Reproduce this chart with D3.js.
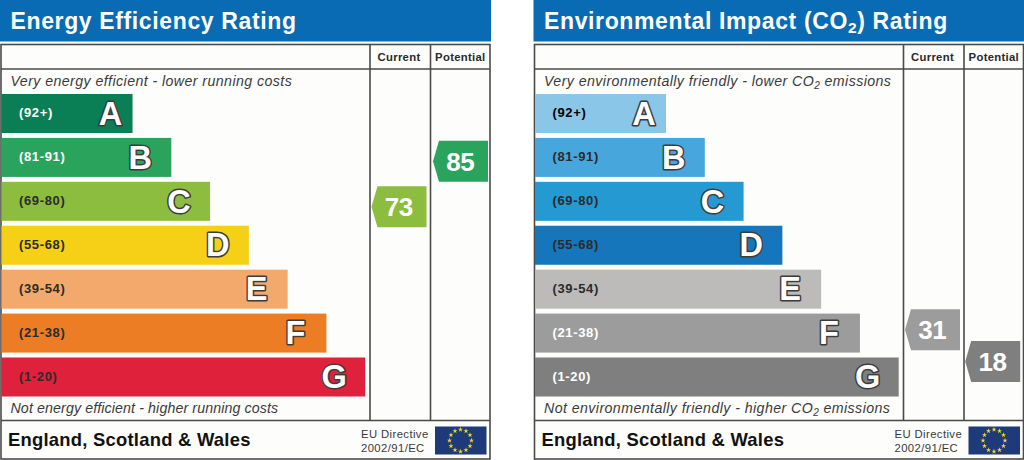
<!DOCTYPE html>
<html><head><meta charset="utf-8">
<script src="https://cdn.jsdelivr.net/npm/d3@7"></script>
<style>html,body{margin:0;padding:0;background:#fff}svg{display:block}text{font-family:"Liberation Sans",Arial,sans-serif}</style>
</head><body><svg id="c" width="1024" height="460"></svg>
<script>
const letters=["A","B","C","D","E","F","G"];
const ranges=["(92+)","(81-91)","(69-80)","(55-68)","(39-54)","(21-38)","(1-20)"];
const bandLow=[92,81,69,55,39,21,1];
const bandHigh=[100,91,80,68,54,38,20];
const barLength=[1,2,3,4,5,6,7];
const energyColors=["#0a7f55","#2aa45c","#8dbd3f","#f5d016","#f3a96b","#ec7d24","#e0213c"];
const energyLabelColors=["#fff","#fff","#2b2b2b","#2b2b2b","#2b2b2b","#2b2b2b","#2b2b2b"];
const envColors=["#8ac6e8","#47a7dc","#2599d1","#1676bc","#bcbbb9","#9c9c9c","#7f7f7f"];
const envLabelColors=["#000","#2b2b2b","#2b2b2b","#2b2b2b","#2b2b2b","#fff","#fff"];
const energyCurrent=73, energyPotential=85;
const envCurrent=31, envPotential=18;
const energyTop=["Very energy efficient - lower running costs"];
const energyBottom=["Not energy efficient - higher running costs"];
const envTop=["Very environmentally friendly - lower CO","2"," emissions"];
const envBottom=["Not environmentally friendly - higher CO","2"," emissions"];

const svg=d3.select("#c");
svg.append("rect").attr("width",1024).attr("height",460).attr("fill","#fff");
const stroke="#4a4a4a";

function panel(x0,o){
  const g=svg.append("g").attr("transform",`translate(${x0},0)`);
  g.append("rect").attr("x",0).attr("y",0).attr("width",491).attr("height",41.5).attr("fill","#086bb3");
  const t=g.append("text").attr("x",10.5).attr("y",29).attr("fill","#fff").attr("font-weight","bold")
    .attr("font-size",23).attr("letter-spacing",o.titleSpacing);
  o.title.forEach((s,i)=>{
    t.append("tspan").text(s).attr("font-size",s==="2"?15.5:23).attr("dy",s==="2"?4:(i>0?-4:0));
  });
  g.append("rect").attr("x",1).attr("y",44.5).attr("width",489).attr("height",414.5)
    .attr("fill","#fdfdfb").attr("stroke",stroke).attr("stroke-width",1.6);
  [[370,44.5,370,420],[430.5,44.5,430.5,420],[1,69,490,69],[1,420.5,490,420.5]].forEach(l=>{
    g.append("line").attr("x1",l[0]).attr("y1",l[1]).attr("x2",l[2]).attr("y2",l[3])
      .attr("stroke",stroke).attr("stroke-width",1.6);
  });
  g.selectAll("text.col").data(["Current","Potential"]).join("text").attr("class","col")
    .attr("x",(d,i)=>i?460.3:399).attr("y",61).attr("text-anchor","middle")
    .attr("font-weight","bold").attr("font-size",11.3).attr("letter-spacing",0.3).attr("fill","#2a2a2a").text(d=>d);

  const y=d3.scaleBand().domain(letters).range([94,396.5]).paddingInner(0.112).paddingOuter(0);
  const x=d3.scaleLinear().domain([0,7]).range([93.75,365.2]);
  const bars=g.selectAll("g.bar").data(letters).join("g").attr("class","bar");
  bars.append("rect").attr("x",1.5).attr("y",d=>y(d)).attr("height",y.bandwidth())
    .attr("width",(d,i)=>x(barLength[i])-1.5).attr("fill",(d,i)=>o.colors[i]);
  bars.append("text").attr("x",19).attr("y",d=>y(d)+y.bandwidth()/2+3.6)
    .attr("font-weight","bold").attr("font-size",13).attr("letter-spacing",0.65).attr("fill",(d,i)=>o.labelColors[i]).text((d,i)=>ranges[i]);
  bars.append("text").attr("x",(d,i)=>x(barLength[i])-(i?31:22)).attr("y",d=>y(d)+y.bandwidth()/2+11.2)
    .attr("text-anchor","middle").attr("font-weight","bold").attr("font-size",32.5)
    .attr("fill","#fff").attr("stroke","#3c3c3c").attr("stroke-width",3).attr("paint-order","stroke")
    .attr("stroke-linejoin","round").text(d=>d);

  function note(parts,yy,sp){
    const n=g.append("text").attr("x",10.5).attr("y",yy).attr("font-style","italic").attr("font-size",14.2)
      .attr("letter-spacing",sp).attr("fill","#3a3a3a");
    parts.forEach((s,i)=>n.append("tspan").text(s).attr("font-size",s==="2"?10:14.2).attr("dy",s==="2"?3:(i>0?-3:0)));
  }
  note(o.top,86,o.topSpacing); note(o.bottom,413.3,o.bottomSpacing);

  function valueY(v){
    const i=bandLow.findIndex((lo,k)=>v>=lo&&v<=bandHigh[k]);
    const s=d3.scaleLinear().domain([bandLow[i],bandHigh[i]]).range([y(letters[i])+y.bandwidth(),y(letters[i])]);
    return {cy:s(v),color:o.colors[i]};
  }
  function pointer(v,left){
    const p=valueY(v), h=20.5, w=55;
    const path=d3.path();
    path.moveTo(left,p.cy); path.lineTo(left+6,p.cy-h); path.lineTo(left+w,p.cy-h);
    path.lineTo(left+w,p.cy+h); path.lineTo(left+6,p.cy+h); path.closePath();
    g.append("path").attr("d",path.toString()).attr("fill",p.color);
    g.append("text").attr("x",left+27.3).attr("y",p.cy+9.5).attr("text-anchor","middle")
      .attr("font-weight","bold").attr("font-size",26).attr("letter-spacing",-0.4).attr("fill","#fff").text(v);
  }
  pointer(o.current,371.5); pointer(o.potential,o.potentialLeft);

  g.append("text").attr("x",8).attr("y",446).attr("font-weight","bold").attr("font-size",18.4).attr("letter-spacing",0.25).attr("fill","#111").text("England, Scotland & Wales");
  g.selectAll("text.eu").data(["EU Directive","2002/91/EC"]).join("text").attr("class","eu")
    .attr("x",361).attr("y",(d,i)=>i?452:438).attr("font-size",11.3).attr("letter-spacing",0.4).attr("fill","#3a3a3a").text(d=>d);
  g.append("rect").attr("x",435).attr("y",426.5).attr("width",51.5).attr("height",28).attr("fill","#1f3a78");
  const a=d3.scaleLinear().domain([0,12]).range([0,2*Math.PI]);
  g.selectAll("path.star").data(d3.range(12)).join("path").attr("class","star")
    .attr("d",d3.symbol().type(d3.symbolStar).size(8))
    .attr("fill","#f7d62a")
    .attr("transform",d=>`translate(${460.5+11*Math.sin(a(d))},${440.5-11*Math.cos(a(d))})`);
}
panel(0,{title:["Energy Efficiency Rating"],titleSpacing:0.63,colors:energyColors,labelColors:energyLabelColors,potentialLeft:433,
  top:energyTop,bottom:energyBottom,topSpacing:0.42,bottomSpacing:0.12,current:energyCurrent,potential:energyPotential});
panel(533.5,{title:["Environmental Impact (CO","2",") Rating"],titleSpacing:0.63,colors:envColors,labelColors:envLabelColors,potentialLeft:431.7,
  top:envTop,bottom:envBottom,topSpacing:0.42,bottomSpacing:0.42,current:envCurrent,potential:envPotential});
</script></body></html>
